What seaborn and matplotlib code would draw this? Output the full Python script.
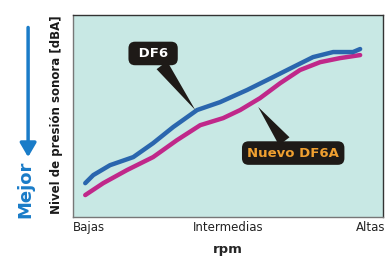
import numpy as np
import pandas as pd
import matplotlib
matplotlib.use("Agg")
import matplotlib.pyplot as plt
import seaborn as sns

# data (rpm as 0..1, noise level as 0..1)
df6_x = [0.039, 0.065, 0.119, 0.194, 0.258, 0.323, 0.400, 0.474, 0.561, 0.645, 0.710, 0.774, 0.839, 0.903, 0.926]
df6_y = [0.168, 0.208, 0.257, 0.297, 0.366, 0.446, 0.530, 0.569, 0.629, 0.693, 0.743, 0.792, 0.817, 0.817, 0.832]
df6a_x = [0.039, 0.097, 0.174, 0.258, 0.335, 0.410, 0.484, 0.539, 0.603, 0.668, 0.732, 0.797, 0.861, 0.926]
df6a_y = [0.109, 0.168, 0.233, 0.297, 0.381, 0.455, 0.490, 0.530, 0.589, 0.663, 0.728, 0.767, 0.787, 0.802]
tick_pos = [0.05, 0.5, 0.96]
tick_labels = ["Bajas", "Intermedias", "Altas"]

sns.set_style("white")
plt.rcParams['font.family'] = ['DejaVu Sans']

fig = plt.figure(figsize=(3.85, 2.6), dpi=100)
ax = fig.add_axes([0.19, 0.165, 0.805, 0.777])
ax.set_facecolor('#c8e8e4')

blue = '#2a66ae'
pink = '#c0288a'
sns.lineplot(x=df6a_x, y=df6a_y, ax=ax, color=pink, linewidth=3.2,
             solid_capstyle='round', solid_joinstyle='round')
sns.lineplot(x=df6_x, y=df6_y, ax=ax, color=blue, linewidth=3.2,
             solid_capstyle='round', solid_joinstyle='round')

ax.set_xlim(0, 1)
ax.set_ylim(0, 1)
ax.set_xticks(tick_pos)
ax.set_xticklabels(tick_labels, fontsize=8.5, color='#222222')
ax.set_yticks([])
ax.tick_params(axis='x', length=0, pad=3)
for s in ax.spines.values():
    s.set_color('#333333')
    s.set_linewidth(1.0)
ax.spines['left'].set_color('#777777')
ax.spines['bottom'].set_color('#777777')

ax.set_xlabel('rpm', fontsize=9.5, fontweight='bold', labelpad=6)

# callouts
ax.annotate(' DF6 ', xy=(0.394, 0.53), xytext=(0.258, 0.81),
            ha='center', va='center', fontsize=9.5, fontweight='bold', color='white',
            bbox=dict(boxstyle='round,pad=0.4,rounding_size=0.5', fc='#1e1a17', ec='none'),
            arrowprops=dict(arrowstyle='wedge,tail_width=1.0', fc='#1e1a17', ec='none',
                            shrinkA=0, shrinkB=0))
ax.annotate('Nuevo DF6A', xy=(0.597, 0.545), xytext=(0.71, 0.317),
            ha='center', va='center', fontsize=9.5, fontweight='bold', color='#f0a030',
            bbox=dict(boxstyle='round,pad=0.4,rounding_size=0.5', fc='#1e1a17', ec='none'),
            arrowprops=dict(arrowstyle='wedge,tail_width=1.0', fc='#1e1a17', ec='none',
                            shrinkA=0, shrinkB=0))

fig.text(0.148, 0.558, 'Nivel de presión sonora [dBA]', rotation=90,
         ha='center', va='center', fontsize=8.5, fontweight='bold', color='#1a1a1a')

mejor_blue = '#1a7cc8'
fig.text(0.066, 0.27, 'Mejor', rotation=90, ha='center', va='center',
         fontsize=13, fontweight='bold', color=mejor_blue)
fig.patches.append(matplotlib.patches.FancyArrowPatch(
    (0.073, 0.905), (0.073, 0.385), transform=fig.transFigure,
    arrowstyle='-|>,head_length=0.6,head_width=0.35', mutation_scale=14,
    color=mejor_blue, linewidth=2.5))

fig.savefig('out.png', dpi=100)
